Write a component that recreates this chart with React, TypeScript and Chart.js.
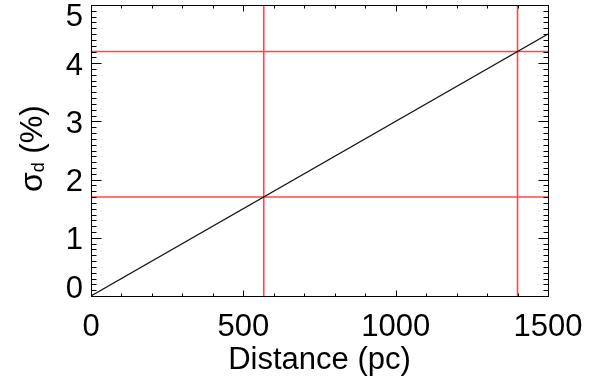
import React, { useEffect, useRef } from 'react';
import { Chart, registerables } from 'chart.js';

Chart.register(...registerables);

// ---- data ----
const lineDistance = [0, 1500];
const lineSigma = [0, 4.5];
const markDistances = [567, 1400];
const markSigmas = [1.7, 4.2];
const xRange = [0, 1500];
const yRange = [0, 5];
const xTickValues = [0, 500, 1000, 1500];
const xTickLabels = ['0', '500', '1000', '1500'];
const yTickValues = [0, 1, 2, 3, 4, 5];
const yTickLabels = ['0', '1', '2', '3', '4', '5'];
const xMinorStep = 100;
const yMinorStep = 0.1;
const xTitle = 'Distance (pc)';
const yTitleSymbol = 'σ';
const yTitleSub = 'd';
const yTitleRest = ' (%)';

const FONT = '"Liberation Sans", Arial, Helvetica, sans-serif';

const axesPlugin = {
  id: 'idlAxes',
  afterDraw(chart: any) {
    const { ctx, chartArea: a, scales } = chart;
    const xs = scales.x;
    const ys = scales.y;
    ctx.save();
    ctx.strokeStyle = '#000';
    ctx.lineWidth = 1;
    ctx.strokeRect(a.left + 0.5, a.top + 0.5, a.right - a.left, a.bottom - a.top);

    ctx.beginPath();
    const nx = Math.round((xRange[1] - xRange[0]) / xMinorStep);
    for (let i = 0; i <= nx; i++) {
      const v = xRange[0] + i * xMinorStep;
      const major = xTickValues.includes(v);
      const len = major ? 6 : 3;
      const px = Math.round(xs.getPixelForValue(v)) + 0.5;
      ctx.moveTo(px, a.bottom + 0.5);
      ctx.lineTo(px, a.bottom + 0.5 - len);
      ctx.moveTo(px, a.top + 0.5);
      ctx.lineTo(px, a.top + 0.5 + len);
    }
    const ny = Math.round((yRange[1] - yRange[0]) / yMinorStep);
    for (let i = 0; i <= ny; i++) {
      const v = yRange[0] + i * yMinorStep;
      const major = i % 10 === 0;
      const len = major ? 10 : 5;
      const py = Math.round(ys.getPixelForValue(v)) + 0.5;
      ctx.moveTo(a.left + 0.5, py);
      ctx.lineTo(a.left + 0.5 + len, py);
      ctx.moveTo(a.right + 0.5, py);
      ctx.lineTo(a.right + 0.5 - len, py);
    }
    ctx.stroke();

    ctx.fillStyle = '#000';
    ctx.font = `31px ${FONT}`;
    ctx.textBaseline = 'alphabetic';
    ctx.textAlign = 'center';
    xTickValues.forEach((v, i) => {
      ctx.fillText(xTickLabels[i], xs.getPixelForValue(v), a.bottom + 40);
    });
    ctx.textAlign = 'right';
    yTickValues.forEach((v, i) => {
      const py = ys.getPixelForValue(v);
      let base = py + 11.5;
      base = Math.min(Math.max(base, a.top + 21), a.bottom + 2);
      ctx.fillText(yTickLabels[i], a.left - 8, base);
    });

    ctx.textAlign = 'center';
    ctx.fillText(xTitle, (a.left + a.right) / 2, a.bottom + 73);

    // rotated y title
    ctx.save();
    ctx.translate(42, 192);
    ctx.rotate(-Math.PI / 2);
    ctx.textAlign = 'left';
    ctx.font = `32px ${FONT}`;
    ctx.fillText(yTitleSymbol, 0, 0);
    let off = ctx.measureText(yTitleSymbol).width;
    ctx.font = `18px ${FONT}`;
    ctx.fillText(yTitleSub, off, 2);
    off += ctx.measureText(yTitleSub).width;
    ctx.font = `31px ${FONT}`;
    ctx.fillText(yTitleRest, off, 0);
    ctx.restore();

    ctx.restore();
  },
};

export default function App() {
  const ref = useRef<HTMLCanvasElement | null>(null);
  useEffect(() => {
    if (!ref.current) return;
    const red = 'rgb(255,70,70)';
    const datasets: any[] = [];
    markSigmas.forEach((s) => {
      datasets.push({
        type: 'line',
        data: [
          { x: xRange[0], y: s },
          { x: xRange[1], y: s },
        ],
        borderColor: red,
        backgroundColor: red,
        borderWidth: 1.6,
        pointRadius: 0,
        fill: false,
        order: 2,
      });
    });
    markDistances.forEach((d) => {
      datasets.push({
        type: 'line',
        data: [
          { x: d, y: yRange[0] },
          { x: d, y: yRange[1] },
        ],
        borderColor: red,
        backgroundColor: red,
        borderWidth: 1.6,
        pointRadius: 0,
        fill: false,
        order: 2,
      });
    });
    datasets.push({
      type: 'line',
      data: lineDistance.map((x, i) => ({ x, y: lineSigma[i] })),
      borderColor: 'rgb(20,20,20)',
      backgroundColor: 'rgb(20,20,20)',
      borderWidth: 1.2,
      pointRadius: 0,
      fill: false,
      order: 1,
    });
    const chart = new Chart(ref.current, {
      type: 'scatter',
      data: { datasets },
      options: {
        responsive: false,
        animation: false,
        devicePixelRatio: 1,
        showLine: true,
        layout: { padding: { left: 91, top: 5, right: 62, bottom: 87 } },
        plugins: { legend: { display: false }, tooltip: { enabled: false } },
        scales: {
          x: { type: 'linear', min: xRange[0], max: xRange[1], display: false },
          y: { type: 'linear', min: yRange[0], max: yRange[1], display: false },
        },
      },
      plugins: [axesPlugin],
    } as any);
    return () => chart.destroy();
  }, []);
  return (
    <div style={{ position: 'absolute', left: 0, top: 0, width: 610, height: 383, background: '#fff' }}>
      <canvas ref={ref} width={610} height={383} style={{ display: 'block' }} />
    </div>
  );
}
